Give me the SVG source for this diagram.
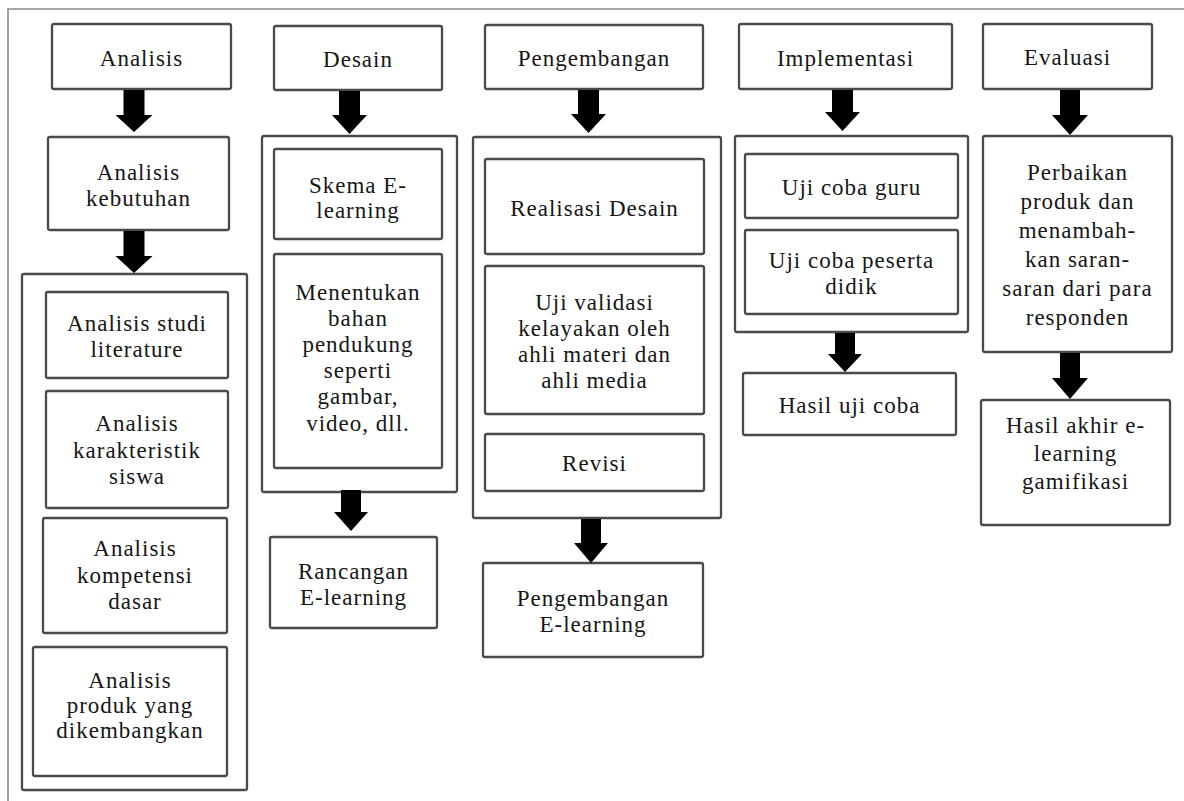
<svg xmlns="http://www.w3.org/2000/svg" width="1184" height="801" viewBox="0 0 1184 801">
<style>
.b{fill:#fff;stroke:#4a4a4a;stroke-width:2.3}
.t{font-family:"Liberation Serif","Times New Roman",serif;font-size:23px;fill:#161616;text-anchor:middle;letter-spacing:1px}
.a{fill:#000}
</style>
<rect width="1184" height="801" fill="#fff"/>
<path d="M8,801 V9 H1184" fill="none" stroke="#8a8a8a" stroke-width="1.6"/>
<g id="col1">
<g id="analisis"><rect class="b" x="52" y="24" width="179" height="65" rx="2"/><text class="t" x="141.5" y="65.5">Analisis</text></g>
<g id="analisis-kebutuhan"><rect class="b" x="48" y="137" width="181" height="93" rx="2"/><text class="t" x="138.5" y="180">Analisis</text><text class="t" x="138.5" y="206">kebutuhan</text></g>
<g id="analisis-group"><rect class="b" x="22" y="274" width="225" height="516" rx="2"/>
<g id="studi"><rect class="b" x="46" y="292" width="182" height="86" rx="2"/><text class="t" x="137" y="331">Analisis studi</text><text class="t" x="137" y="357">literature</text></g>
<g id="karakteristik"><rect class="b" x="46" y="391" width="182" height="117" rx="2"/><text class="t" x="137" y="431">Analisis</text><text class="t" x="137" y="457.5">karakteristik</text><text class="t" x="137" y="484">siswa</text></g>
<g id="kompetensi"><rect class="b" x="43" y="518" width="184" height="115" rx="2"/><text class="t" x="135" y="556">Analisis</text><text class="t" x="135" y="582.5">kompetensi</text><text class="t" x="135" y="609">dasar</text></g>
<g id="produk"><rect class="b" x="33" y="647" width="194" height="129" rx="2"/><text class="t" x="130" y="688">Analisis</text><text class="t" x="130" y="713">produk yang</text><text class="t" x="130" y="738">dikembangkan</text></g>
</g>
</g>
<g id="col2">
<g id="desain"><rect class="b" x="274" y="26" width="168" height="64" rx="2"/><text class="t" x="358" y="67">Desain</text></g>
<g id="desain-group"><rect class="b" x="262" y="136" width="195" height="356" rx="2"/>
<g id="skema"><rect class="b" x="274" y="149" width="168" height="90" rx="2"/><text class="t" x="358" y="193">Skema E-</text><text class="t" x="358" y="218">learning</text></g>
<g id="menentukan"><rect class="b" x="274" y="254" width="168" height="214" rx="2"/><text class="t" x="358" y="300">Menentukan</text><text class="t" x="358" y="326">bahan</text><text class="t" x="358" y="352">pendukung</text><text class="t" x="358" y="378">seperti</text><text class="t" x="358" y="404">gambar,</text><text class="t" x="358" y="431">video, dll.</text></g>
</g>
<g id="rancangan"><rect class="b" x="270" y="537" width="167" height="91" rx="2"/><text class="t" x="353.5" y="579">Rancangan</text><text class="t" x="353.5" y="605">E-learning</text></g>
</g>
<g id="col3">
<g id="pengembangan"><rect class="b" x="485" y="25" width="218" height="64" rx="2"/><text class="t" x="594" y="66">Pengembangan</text></g>
<g id="pengembangan-group"><rect class="b" x="473" y="137" width="248" height="381" rx="2"/>
<g id="realisasi"><rect class="b" x="485" y="159" width="219" height="95" rx="2"/><text class="t" x="594.5" y="215.5">Realisasi Desain</text></g>
<g id="validasi"><rect class="b" x="485" y="266" width="219" height="148" rx="2"/><text class="t" x="594.5" y="310">Uji validasi</text><text class="t" x="594.5" y="336">kelayakan oleh</text><text class="t" x="594.5" y="362">ahli materi dan</text><text class="t" x="594.5" y="388">ahli media</text></g>
<g id="revisi"><rect class="b" x="485" y="434" width="219" height="57" rx="2"/><text class="t" x="594.5" y="471">Revisi</text></g>
</g>
<g id="pengembangan-elearning"><rect class="b" x="483" y="563" width="220" height="94" rx="2"/><text class="t" x="593" y="606">Pengembangan</text><text class="t" x="593" y="632">E-learning</text></g>
</g>
<g id="col4">
<g id="implementasi"><rect class="b" x="739" y="24" width="213" height="65" rx="2"/><text class="t" x="845.5" y="65.5">Implementasi</text></g>
<g id="implementasi-group"><rect class="b" x="735" y="136" width="233" height="196" rx="2"/>
<g id="uji-guru"><rect class="b" x="745" y="154" width="213" height="64" rx="2"/><text class="t" x="851.5" y="195">Uji coba guru</text></g>
<g id="uji-peserta"><rect class="b" x="745" y="230" width="213" height="84" rx="2"/><text class="t" x="851.5" y="268">Uji coba peserta</text><text class="t" x="851.5" y="294">didik</text></g>
</g>
<g id="hasil-uji"><rect class="b" x="743" y="373" width="213" height="62" rx="2"/><text class="t" x="849.5" y="413">Hasil uji coba</text></g>
</g>
<g id="col5">
<g id="evaluasi"><rect class="b" x="983" y="24" width="169" height="65" rx="2"/><text class="t" x="1067.5" y="65">Evaluasi</text></g>
<g id="perbaikan"><rect class="b" x="983" y="136" width="189" height="216" rx="2"/><text class="t" x="1077.5" y="180">Perbaikan</text><text class="t" x="1077.5" y="209">produk dan</text><text class="t" x="1077.5" y="238">menambah-</text><text class="t" x="1077.5" y="267">kan saran-</text><text class="t" x="1077.5" y="296">saran dari para</text><text class="t" x="1077.5" y="325">responden</text></g>
<g id="hasil-akhir"><rect class="b" x="981" y="400" width="189" height="125" rx="2"/><text class="t" x="1075.5" y="433">Hasil akhir e-</text><text class="t" x="1075.5" y="461">learning</text><text class="t" x="1075.5" y="489">gamifikasi</text></g>
</g>
<g id="connectors">
<path class="a" d="M123.5,90 H144.5 V115 H152.5 L134,132 L115.5,115 H123.5 Z"/>
<path class="a" d="M123.5,231 H144.5 V256 H152.5 L134,273 L115.5,256 H123.5 Z"/>
<path class="a" d="M339,91 H360 V115 H367 L349.5,134 L332,115 H339 Z"/>
<path class="a" d="M341,490 H361 V512 H368 L351,531 L334,512 H341 Z"/>
<path class="a" d="M578,90 H599 V114 H606 L588.5,133 L571,114 H578 Z"/>
<path class="a" d="M581,519 H601 V543 H608 L591,563 L574,543 H581 Z"/>
<path class="a" d="M832,90 H853 V112 H860 L842.5,131 L825,112 H832 Z"/>
<path class="a" d="M835,333 H855 V354 H862 L845,372 L828,354 H835 Z"/>
<path class="a" d="M1060,90 H1080 V115 H1088 L1070,135 L1052,115 H1060 Z"/>
<path class="a" d="M1060,353 H1080 V378 H1088 L1070,399 L1052,378 H1060 Z"/>
</g>
</svg>
